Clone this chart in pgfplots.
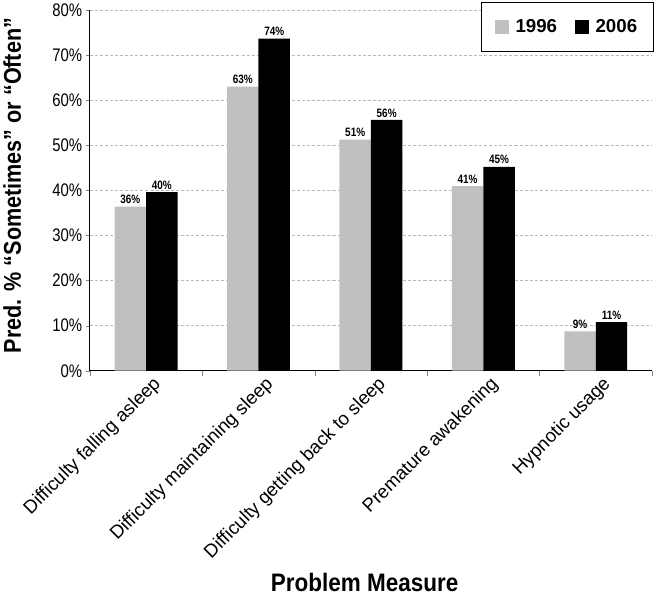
\documentclass[border=0pt]{standalone}
\usepackage{fontspec}
\setmainfont{Liberation Sans}
\newfontfamily\narrow{Liberation Sans}[FakeStretch=0.82]
\newfontfamily\narrowB{Liberation Sans}[FakeStretch=0.89]
\usepackage{pgfplots}
\pgfplotsset{compat=1.18}
\definecolor{bargray}{RGB}{192,192,192}
\pgfplotstableread{
x y
0 36.4
1 63.0
2 51.2
3 40.9
4 8.7
}\dataA
\pgfplotstableread{
x y
0 39.6
1 73.6
2 55.6
3 45.2
4 10.8
}\dataB
\begin{document}
\begin{tikzpicture}
\begin{axis}[
  scale only axis,
  width=556pt, height=357pt,
  ybar,
  /pgf/number format/assume math mode=true,
  ymin=0, ymax=80, ytick={0,10,...,80},
  yticklabel={\pgfmathprintnumber{\tick}\%},
  y tick label style={font=\narrow\fontsize{18}{18}\selectfont},
  xmin=-0.5, xmax=4.5,
  xtick={0,...,4},
  xticklabels={Difficulty falling asleep, Difficulty maintaining sleep, Difficulty getting back to sleep, Premature awakening, Hypnotic usage},
  x tick label style={rotate=45, anchor=north east, font=\fontsize{18.5}{18.5}\selectfont, inner sep=1pt, xshift=5pt, yshift=-3pt},
  major x tick style={draw=none},
  minor xtick={-0.5,0.5,1.5,2.5,3.5,4.5},
  minor tick length=5pt,
  major tick length=4pt,
  tick align=outside,
  axis x line*=bottom, axis y line*=left,
  axis line style={line width=1pt},
  ymajorgrids,
  grid style={densely dashed, gray!55, line width=0.5pt},
  xlabel={\narrowB\bfseries\fontsize{25}{25}\selectfont Problem Measure},
  xlabel style={at={(axis description cs:0.489,-0.611)}, anchor=base},
  ylabel={\narrowB\bfseries\fontsize{24}{24}\selectfont Pred. \% “Sometimes” or “Often”},
  ylabel style={at={(axis description cs:-0.138,0.513)}, anchor=center},
  bar width=0.28,
  nodes near coords={\pgfmathprintnumber[fixed,precision=0]{\pgfplotspointmeta}\%},
  every node near coord/.append style={font=\narrow\bfseries\fontsize{12}{12}\selectfont, inner sep=2.5pt},
  legend style={at={(axis description cs:1.0036,1.0224)}, anchor=north east, legend columns=2, draw=black, line width=1.3pt, font=\bfseries\fontsize{18.5}{18.5}\selectfont, inner xsep=14pt, inner ysep=15pt, /tikz/every even column/.append style={column sep=16pt}, /tikz/every odd column/.append style={column sep=4pt}},
  legend image code/.code={\fill[#1] (0pt,-7pt) rectangle (14pt,7pt);},
  clip=false,
]
\addplot[bar shift=-0.14, fill=bargray, draw=none] table[x=x,y=y] {\dataA};
\addplot[bar shift=0.14, fill=black, draw=none] table[x=x,y=y] {\dataB};
\legend{1996, 2006}
\end{axis}
\end{tikzpicture}
\end{document}
